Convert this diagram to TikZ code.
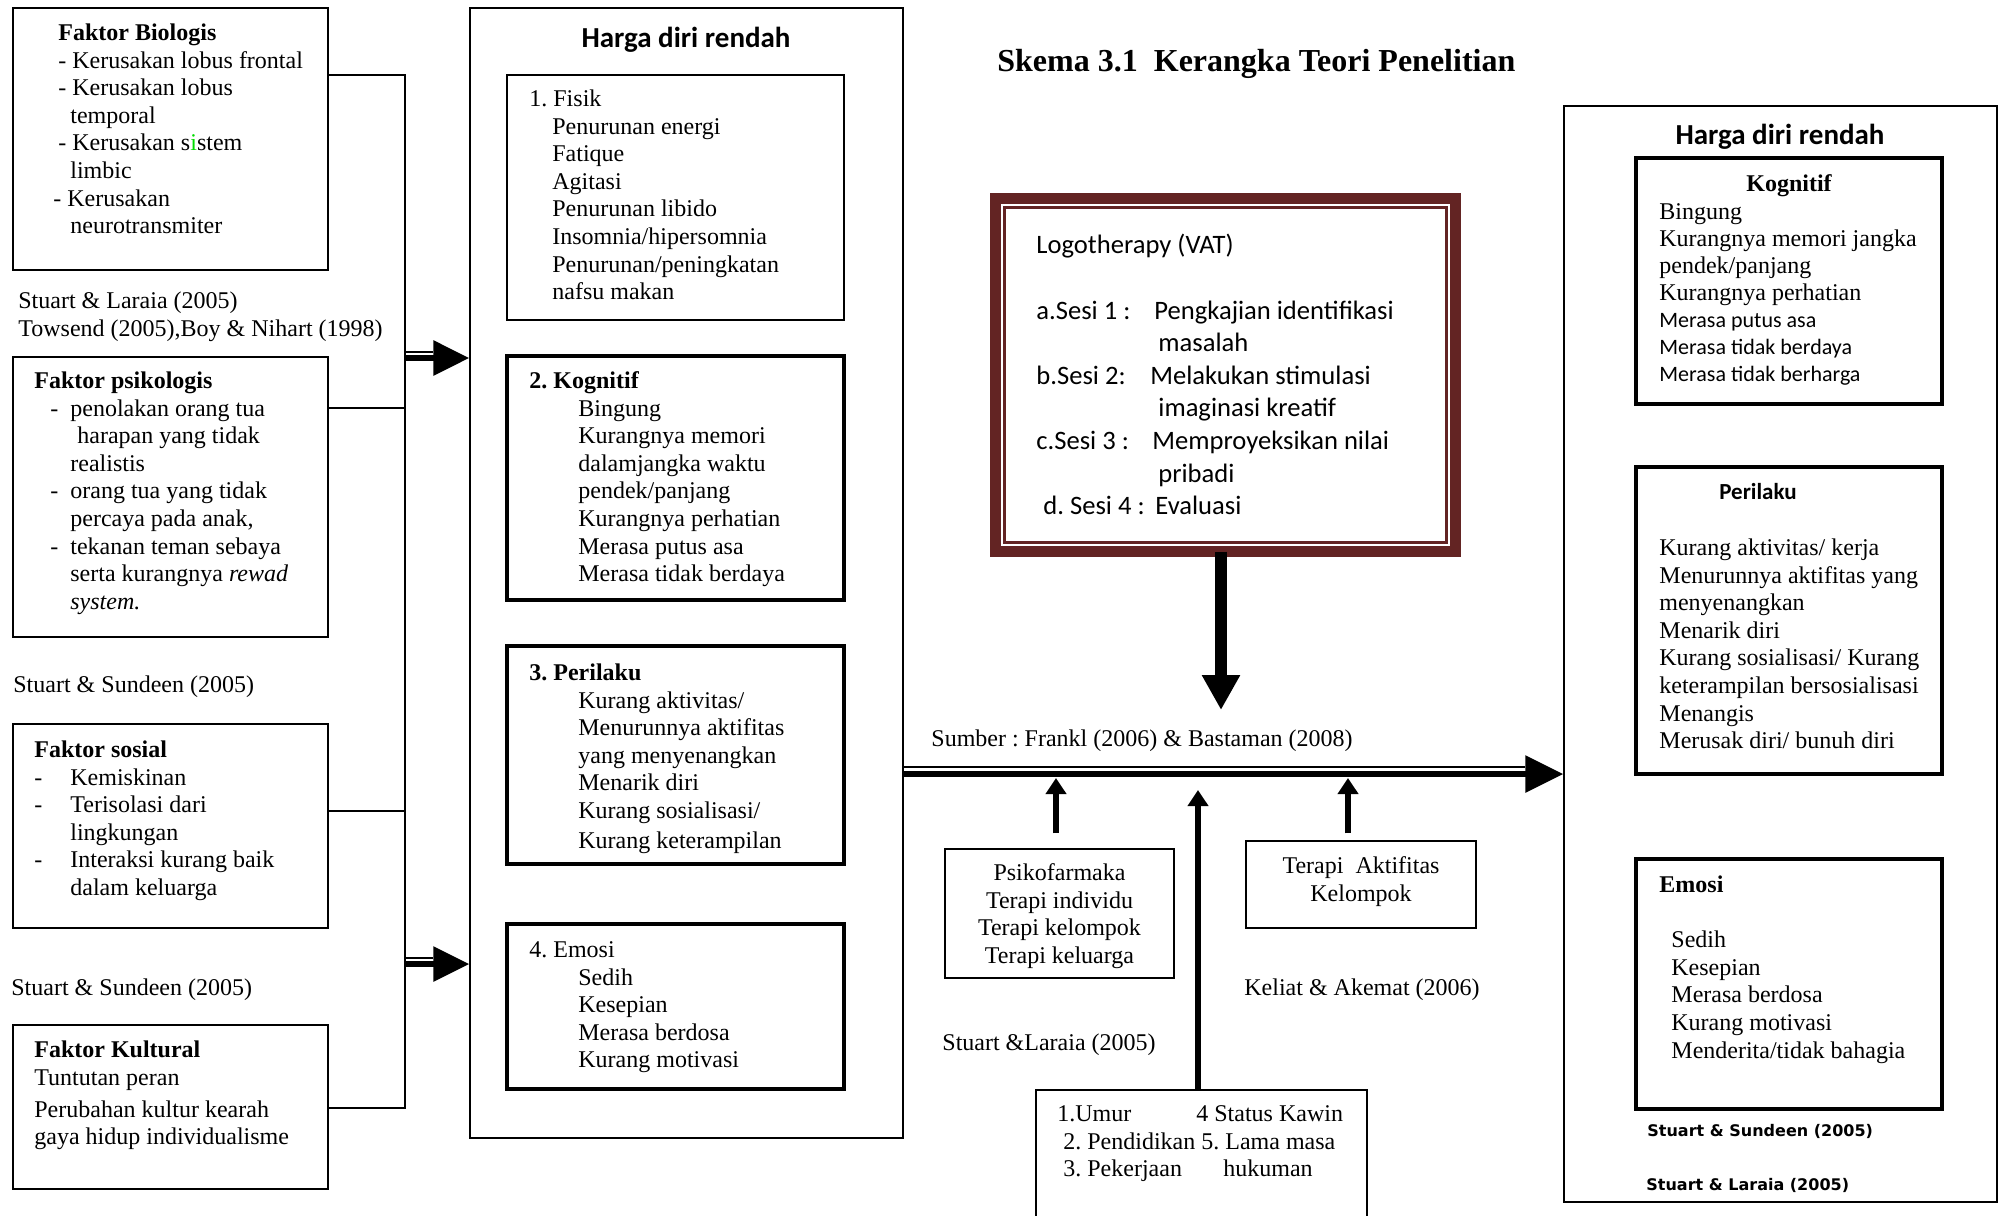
\documentclass[tikz,border=0pt]{standalone}
\usepackage{fontspec}
\setmainfont{Liberation Serif}
\newfontfamily\calfont{Carlito}
\newfontfamily\dvfont{DejaVu Sans}
\usetikzlibrary{arrows.meta,fit}
\definecolor{framebrown}{RGB}{99,36,35}
\definecolor{brightgreen}{RGB}{0,220,0}
\newcommand\tmfont{\fontsize{12}{13.8}\selectfont}
\frenchspacing
\begin{document}
\begin{tikzpicture}[x=0.5pt,y=-0.5pt,
  thinbox/.style={draw, line width=0.7pt, inner sep=0pt},
  thickbox/.style={draw, line width=2pt, inner sep=0pt},
  tb/.style={anchor=north west, inner sep=0pt, align=left, font=\tmfont},
  tbc/.style={anchor=north, inner sep=0pt, align=center, font=\tmfont},
  lbl/.style={anchor=base west, inner sep=0pt, font=\tmfont},
  bus/.style={line width=0.7pt},
  shaft/.style={line width=3pt, -{Triangle[length=18pt,width=17pt]}},
  thinshaft/.style={line width=1pt},
  uparr/.style={line width=3pt, -{Triangle[length=8pt,width=10pt]}},
  hdr/.style={anchor=base, inner sep=0pt, font={\fontsize{14.5}{17}\selectfont\calfont\bfseries}}]
\useasboundingbox (0,0) rectangle (1999,1216);
\fill[white] (0,0) rectangle (1999,1216);
\clip (0,0) rectangle (1999,1216);

% ---------------- left factor boxes
\node[thinbox, fit={(13,8) (328,270)}] (bio) {};
\node[thinbox, fit={(13,357) (328,637)}] (psi) {};
\node[thinbox, fit={(13,724) (328,928)}] (sos) {};
\node[thinbox, fit={(13,1025) (328,1189)}] (kul) {};

\node[tb] (biot) at (53,20.7) {\strut\hspace*{2.5pt}\textbf{Faktor Biologis}\\
\hspace*{2.5pt}- Kerusakan lobus frontal\\
\hspace*{2.5pt}- Kerusakan lobus\\
\hspace*{8.5pt}temporal\\
\hspace*{2.5pt}- Kerusakan s{\color{brightgreen}i}stem\\
\hspace*{8.5pt}limbic\\
- Kerusakan\\
\hspace*{8.5pt}neurotransmiter};

\node[tb] (ref1) at (18,288.7) {\strut Stuart \& Laraia (2005)\\Towsend (2005),Boy \& Nihart (1998)};

\node[tb] (psit) at (34,368.7) {\strut\textbf{Faktor psikologis}\\
\hspace*{8pt}\makebox[10pt][l]{-}penolakan orang tua\\
\hspace*{21.5pt}harapan yang tidak\\
\hspace*{18pt}realistis\\
\hspace*{8pt}\makebox[10pt][l]{-}orang tua yang tidak\\
\hspace*{18pt}percaya pada anak,\\
\hspace*{8pt}\makebox[10pt][l]{-}tekanan teman sebaya\\
\hspace*{18pt}serta kurangnya \textit{rewad}\\
\hspace*{18pt}\textit{system.}};

\node[lbl] (ref2) at (13,692) {Stuart \& Sundeen (2005)};

\node[tb] (sost) at (34,737.7) {\strut\textbf{Faktor sosial}\\
\makebox[18pt][l]{-}Kemiskinan\\
\makebox[18pt][l]{-}Terisolasi dari\\
\hspace*{18pt}lingkungan\\
\makebox[18pt][l]{-}Interaksi kurang baik\\
\hspace*{18pt}dalam keluarga};

\node[lbl] (ref3) at (11,995) {Stuart \& Sundeen (2005)};

\node[tb] (kult) at (34,1037.7) {\strut\textbf{Faktor Kultural}\\
Tuntutan peran\\[2.2pt]
Perubahan kultur kearah\\
gaya hidup individualisme};

% ---------------- middle box
\node[thinbox, fit={(470,8) (903,1138)}] (mid) {};
\node[hdr] (midt) at (686,47) {Harga diri rendah};
\node[thinbox, fit={(507,75) (844,320)}] (fis) {};
\node[thickbox, fit={(507,356) (844,600)}] (kog) {};
\node[thickbox, fit={(507,646) (844,864)}] (per) {};
\node[thickbox, fit={(507,924) (844,1089)}] (emo) {};

\node[tb] (fist) at (529,86.7) {\strut 1. Fisik\\
\hspace*{11.5pt}Penurunan energi\\
\hspace*{11.5pt}Fatique\\
\hspace*{11.5pt}Agitasi\\
\hspace*{11.5pt}Penurunan libido\\
\hspace*{11.5pt}Insomnia/hipersomnia\\
\hspace*{11.5pt}Penurunan/peningkatan\\
\hspace*{11.5pt}nafsu makan};

\node[tb] (kogt) at (529,368.7) {\strut\textbf{2. Kognitif}\\
\hspace*{24.5pt}Bingung\\
\hspace*{24.5pt}Kurangnya memori\\
\hspace*{24.5pt}dalamjangka waktu\\
\hspace*{24.5pt}pendek/panjang\\
\hspace*{24.5pt}Kurangnya perhatian\\
\hspace*{24.5pt}Merasa putus asa\\
\hspace*{24.5pt}Merasa tidak berdaya};

\node[tb] (pert) at (529,660.7) {\strut\textbf{3. Perilaku}\\
\hspace*{24.5pt}Kurang aktivitas/\\
\hspace*{24.5pt}Menurunnya aktifitas\\
\hspace*{24.5pt}yang menyenangkan\\
\hspace*{24.5pt}Menarik diri\\
\hspace*{24.5pt}Kurang sosialisasi/\\[1.2pt]
\hspace*{24.5pt}Kurang keterampilan};

\node[tb] (emot) at (529,937.7) {\strut 4. Emosi\\
\hspace*{24.5pt}Sedih\\
\hspace*{24.5pt}Kesepian\\
\hspace*{24.5pt}Merasa berdosa\\
\hspace*{24.5pt}Kurang motivasi};

% ---------------- bus and arrows from the factors
\coordinate (b1) at (405,75);
\coordinate (b2) at (405,408);
\coordinate (b3) at (405,811);
\coordinate (b4) at (405,1108);
\coordinate (a1) at (405,358);
\coordinate (a2) at (405,964);
\coordinate (a1e) at (a1 -| mid.west);
\coordinate (a2e) at (a2 -| mid.west);
\draw[bus] (b1 -| bio.east) -- (b1) -- (b4) -- (b4 -| kul.east);
\draw[bus] (b2 -| psi.east) -- (b2);
\draw[bus] (b3 -| sos.east) -- (b3);
\draw[shaft] (a1) -- (a1e);
\draw[thinshaft] ([yshift=3.2pt]a1) -- ([xshift=-18pt,yshift=3.2pt]a1e);
\draw[shaft] (a2) -- (a2e);
\draw[thinshaft] ([yshift=3.2pt]a2) -- ([xshift=-18pt,yshift=3.2pt]a2e);

% ---------------- title
\node[anchor=base west, inner sep=0pt, font={\fontsize{16}{19}\selectfont\bfseries}] (title) at (997,71) {Skema 3.1\ \ Kerangka Teori Penelitian};

% ---------------- logotherapy box
\node[draw=framebrown, line width=5.5pt, inner sep=0pt, outer sep=0pt, fit={(995.5,198.5) (1455.5,551.5)}] (logo) {};
\draw[framebrown, line width=1.3pt] ([shift={(4.4pt,-4.4pt)}]logo.north west) rectangle ([shift={(-4.4pt,4.4pt)}]logo.south east);
\node[tb, font={\fontsize{13.3}{16.3}\selectfont\calfont}] (logot) at (1036,230.7) {\strut Logotherapy (VAT)\\
\strut\\
\makebox[59pt][l]{a.Sesi 1 :}Pengkajian identifikasi\\
\hspace*{61pt}masalah\\
\makebox[57pt][l]{b.Sesi 2:}Melakukan stimulasi\\
\hspace*{61pt}imaginasi kreatif\\
\makebox[58pt][l]{c.Sesi 3 :}Memproyeksikan nilai\\
\hspace*{61pt}pribadi\\
\hspace*{3.5pt}\makebox[56pt][l]{d. Sesi 4 :}Evaluasi};
\coordinate (dtip) at ([xshift=-2.25pt]logo.south |- 0,710);
\draw[line width=6pt, -{Triangle[length=17.5pt,width=18pt]}] ([xshift=-2.25pt]logo.south) -- (dtip);

\node[lbl] (sumber) at (931,746) {Sumber : Frankl (2006) \& Bastaman (2008)};

% ---------------- right box
\node[thinbox, fit={(1564,106) (1997,1202)}] (rbox) {};
\node[hdr] (rboxt) at (1780,144) {Harga diri rendah};
\node[thickbox, fit={(1636,158) (1942,404)}] (rk) {};
\node[thickbox, fit={(1636,467) (1942,774)}] (rp) {};
\node[thickbox, fit={(1636,859) (1942,1109)}] (re) {};

\node[anchor=base, inner sep=0pt, font=\tmfont\bfseries] (rkt) at (1789,191) {Kognitif};
\node[tb, font={\fontsize{12}{13.5}\selectfont}] (rki) at (1659,200) {\strut Bingung\\
Kurangnya memori jangka\\
pendek/panjang\\
Kurangnya perhatian\\
{\fontsize{11}{13.5}\selectfont\calfont Merasa putus asa}\\
{\fontsize{11}{13.5}\selectfont\calfont Merasa tidak berdaya}\\
{\fontsize{11}{13.5}\selectfont\calfont Merasa tidak berharga}};

\node[anchor=base, inner sep=0pt, font={\fontsize{11.5}{14}\selectfont\calfont\bfseries}] (rpt) at (1758,499) {Perilaku};
\node[tb] (rpi) at (1659,535.7) {\strut Kurang aktivitas/ kerja\\
Menurunnya aktifitas yang\\
menyenangkan\\
Menarik diri\\
Kurang sosialisasi/ Kurang\\
keterampilan bersosialisasi\\
Menangis\\
Merusak diri/ bunuh diri};

\node[tb] (rei) at (1659,872.7) {\strut\textbf{Emosi}\\
\strut\\
\hspace*{6pt}Sedih\\
\hspace*{6pt}Kesepian\\
\hspace*{6pt}Merasa berdosa\\
\hspace*{6pt}Kurang motivasi\\
\hspace*{6pt}Menderita/tidak bahagia};

\node[anchor=base west, inner sep=0pt, font={\fontsize{8}{10}\selectfont\dvfont\bfseries}] (rref1) at (1647,1136) {Stuart \& Sundeen (2005)};
\node[anchor=base west, inner sep=0pt, font={\fontsize{8}{10}\selectfont\dvfont\bfseries}] (rref2) at (1646,1190) {Stuart \& Laraia (2005)};

% ---------------- main horizontal arrow
\coordinate (ms) at (mid.east |- 0,774);
\coordinate (me) at (ms -| rbox.west);
\draw[line width=3pt, -{Triangle[length=19pt,width=18pt]}] (ms) -- (me);
\draw[thinshaft] ([yshift=3.4pt]ms) -- ([xshift=-19pt,yshift=3.4pt]me);

% ---------------- lower boxes
\node[thinbox, fit={(945,849) (1174,978)}] (psk) {};
\node[tbc] (pskt) at (1059.5,860.7) {\strut Psikofarmaka\\ Terapi individu\\ Terapi kelompok\\ Terapi keluarga};
\node[thinbox, fit={(1246,841) (1476,928)}] (tak) {};
\node[tbc] (takt) at (1361,853.7) {\strut Terapi\ \ Aktifitas\\ Kelompok};
\node[thinbox, fit={(1036,1090) (1367,1240)}] (umur) {};
\node[tb] (umurt) at (1057,1101.7) {\strut\makebox[69.5pt][l]{1.Umur}4 Status Kawin\\
\hspace*{3pt}2. Pendidikan 5. Lama masa\\
\hspace*{3pt}\makebox[80pt][l]{3. Pekerjaan}hukuman};

\node[lbl] (keliat) at (1244,995) {Keliat \& Akemat (2006)};
\node[lbl] (stlar) at (942,1050) {Stuart \&Laraia (2005)};

% ---------------- up arrows
\coordinate (ml) at (0,778);
\coordinate (ml2) at (0,790);
\draw[uparr, shorten <=7.5pt] ([xshift=-1.75pt]psk.north) -- ([xshift=-1.75pt]psk.north |- ml);
\draw[uparr] ([xshift=-1.75pt]umur.north) -- ([xshift=-1.75pt]umur.north |- ml2);
\draw[uparr, shorten <=3.5pt] ([xshift=-6.5pt]tak.north) -- ([xshift=-6.5pt]tak.north |- ml);
\end{tikzpicture}
\end{document}
